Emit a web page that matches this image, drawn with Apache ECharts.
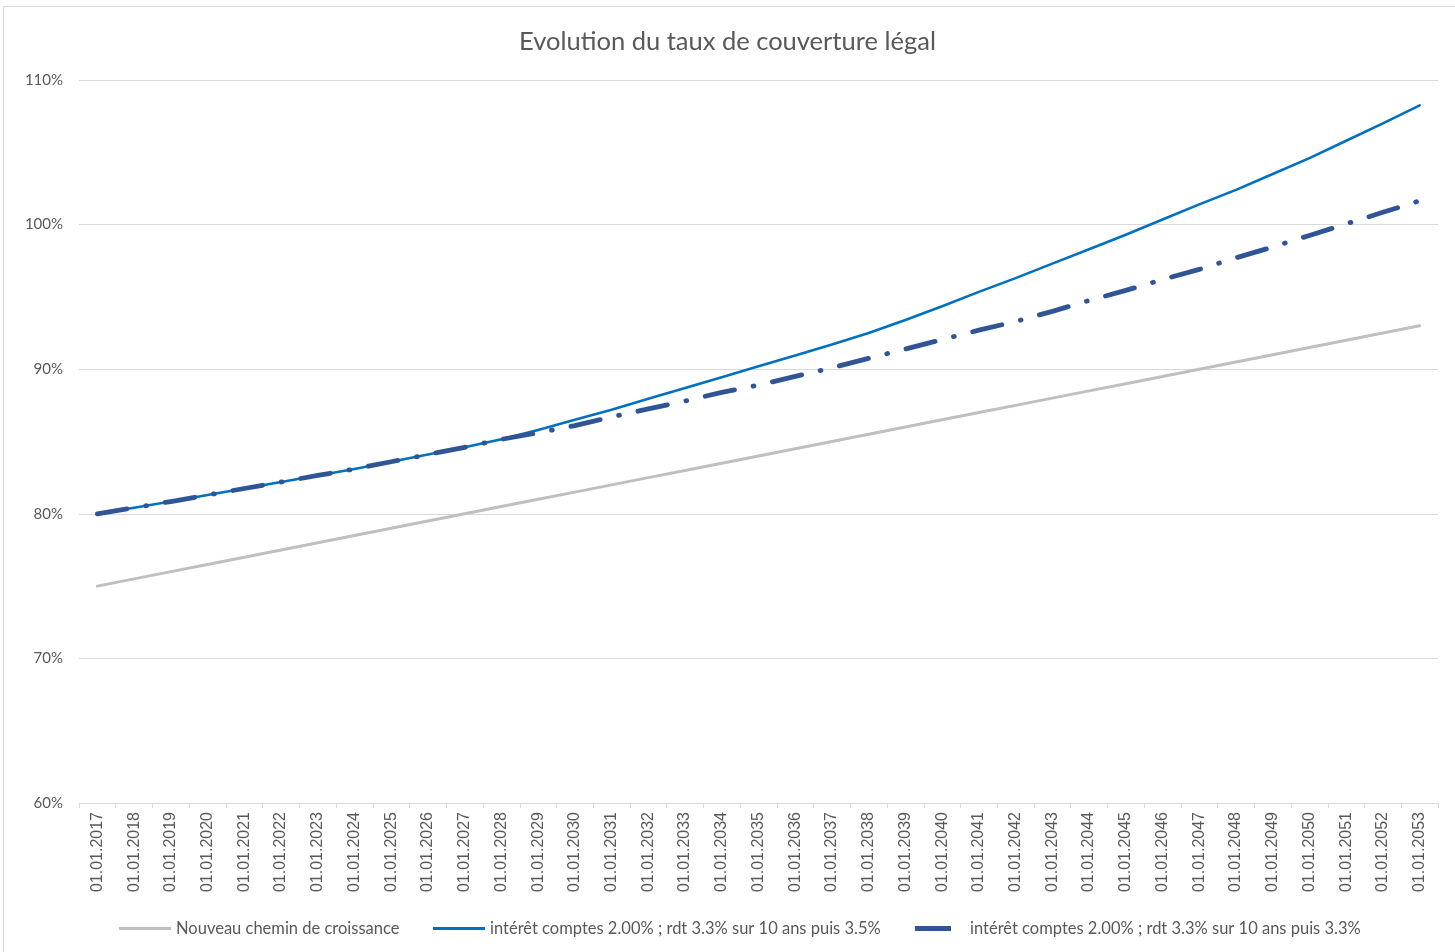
<!DOCTYPE html>
<html>
<head>
<meta charset="utf-8">
<script src="https://cdn.jsdelivr.net/npm/echarts@6/dist/echarts.min.js"></script>
<style>
html,body{margin:0;padding:0;background:#fff;}
#c{width:1455px;height:952px;}
</style>
</head>
<body>
<div id="c"></div>
<script>
const categories = ['01.01.2017','01.01.2018','01.01.2019','01.01.2020','01.01.2021','01.01.2022','01.01.2023','01.01.2024','01.01.2025','01.01.2026','01.01.2027','01.01.2028','01.01.2029','01.01.2030','01.01.2031','01.01.2032','01.01.2033','01.01.2034','01.01.2035','01.01.2036','01.01.2037','01.01.2038','01.01.2039','01.01.2040','01.01.2041','01.01.2042','01.01.2043','01.01.2044','01.01.2045','01.01.2046','01.01.2047','01.01.2048','01.01.2049','01.01.2050','01.01.2051','01.01.2052','01.01.2053'];

const seriesNames = ['Nouveau chemin de croissance','intérêt comptes 2.00% ; rdt 3.3% sur 10 ans puis 3.5%','intérêt comptes 2.00% ; rdt 3.3% sur 10 ans puis 3.3%'];

const growthPath = [75.0,75.5,76.0,76.5,77.0,77.5,78.0,78.5,79.0,79.5,80.0,80.5,81.0,81.5,82.0,82.5,83.0,83.5,84.0,84.5,85.0,85.5,86.0,86.5,87.0,87.5,88.0,88.5,89.0,89.5,90.0,90.5,91.0,91.5,92.0,92.5,93.0];

const rdt35 = [80.0,80.42,80.85,81.3,81.75,82.2,82.65,83.1,83.6,84.1,84.6,85.15,85.8,86.5,87.2,87.95,88.7,89.45,90.2,90.95,91.7,92.5,93.4,94.35,95.35,96.3,97.3,98.3,99.3,100.35,101.4,102.4,103.5,104.6,105.8,107.0,108.25];

const rdt33 = [80.0,80.42,80.85,81.3,81.75,82.2,82.65,83.1,83.6,84.1,84.6,85.15,85.6,86.1,86.7,87.25,87.8,88.4,88.9,89.5,90.1,90.75,91.4,92.05,92.7,93.3,94.0,94.75,95.45,96.2,96.9,97.7,98.45,99.25,100.05,100.85,101.65];

const yTicks = {min:60, max:110, interval:10};

const textColor = '#595959';
const narrowFont = 'Lato, "Liberation Sans Narrow", sans-serif';

const chart = echarts.init(document.getElementById('c'), null, {renderer:'canvas'});

function legendFor(name, left, w, h, color, pad) {
  return {
    show: true,
    data: [{name: name, icon: 'rect', itemStyle: {color: color}}],
    left: left, top: 915,
    itemWidth: w, itemHeight: h,
    selectedMode: false,
    textStyle: {color: textColor, fontSize: 16.5, fontFamily: narrowFont, padding: [0,0,0,pad]}
  };
}

chart.setOption({
  animation: false,
  backgroundColor: '#ffffff',
  title: {
    text: 'Evolution du taux de couverture légal',
    left: 'center', top: 24,
    textStyle: {color: textColor, fontSize: 25.5, fontWeight: 'normal', fontFamily: narrowFont}
  },
  legend: [
    legendFor(seriesNames[0], 114, 52, 3, '#BFBFBF', 0),
    legendFor(seriesNames[1], 428, 52, 3, '#0070C0', 0),
    legendFor(seriesNames[2], 910, 36, 5, '#2F5597', 14)
  ],
  graphic: [{
    type: 'rect', silent: true,
    shape: {x: 3.5, y: 6.5, width: 1460, height: 950},
    style: {fill: 'none', stroke: '#D9D9D9', lineWidth: 1}
  }],
  grid: {left: 79, right: 17, top: 80, bottom: 149, containLabel: false},
  xAxis: {
    type: 'category',
    data: categories,
    boundaryGap: true,
    axisLine: {show: true, lineStyle: {color: '#D9D9D9', width: 1}},
    axisTick: {show: true, length: 5, lineStyle: {color: '#D9D9D9'}},
    axisLabel: {interval: 0, rotate: 90, color: textColor, fontSize: 16, fontFamily: '"Liberation Sans", Arimo, Arial, sans-serif', margin: 9}
  },
  yAxis: {
    type: 'value',
    min: yTicks.min, max: yTicks.max, interval: yTicks.interval,
    axisLine: {show: false},
    axisTick: {show: false},
    splitLine: {lineStyle: {color: '#D9D9D9', width: 1}},
    axisLabel: {formatter: '{value}%', color: textColor, fontSize: 15, fontFamily: narrowFont, margin: 16}
  },
  series: [
    {
      name: seriesNames[0], type: 'line', data: growthPath,
      showSymbol: false, symbol: 'none', z: 2,
      lineStyle: {color: '#BFBFBF', width: 3, cap: 'round', join: 'round'},
      itemStyle: {color: '#BFBFBF'}
    },
    {
      name: seriesNames[1], type: 'line', data: rdt35,
      showSymbol: false, symbol: 'none', z: 3,
      lineStyle: {color: '#0070C0', width: 2.6, cap: 'round', join: 'round'},
      itemStyle: {color: '#0070C0'}
    },
    {
      name: seriesNames[2], type: 'line', data: rdt33,
      showSymbol: false, symbol: 'none', z: 4,
      lineStyle: {color: '#2F5597', width: 4.8, type: [30, 19, 0.8, 19], cap: 'round', join: 'round'},
      itemStyle: {color: '#2F5597'}
    }
  ]
});
</script>
</body>
</html>
